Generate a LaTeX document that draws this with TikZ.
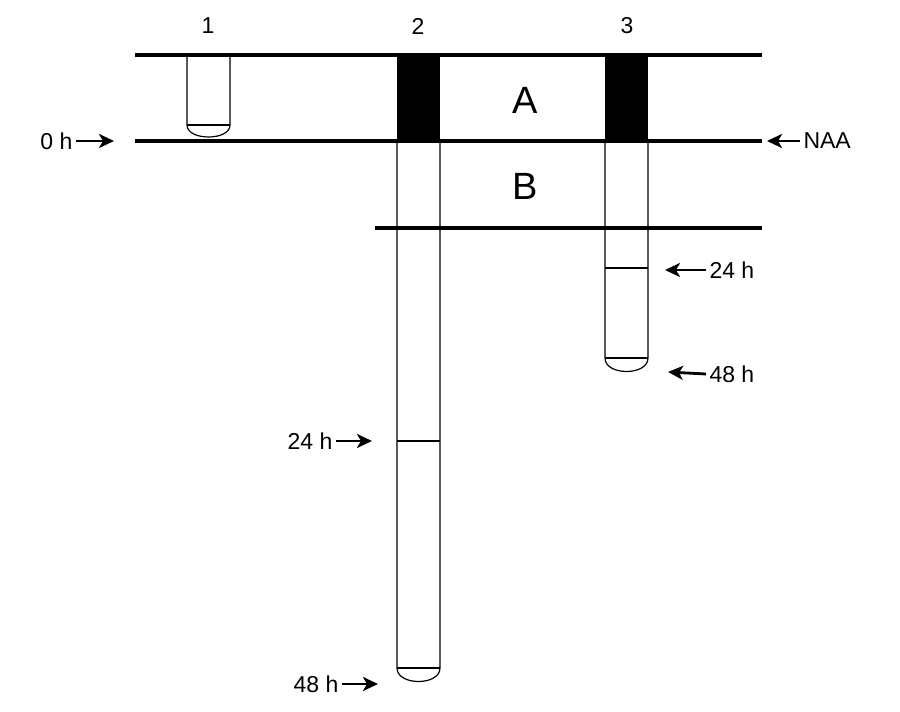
\documentclass[tikz,border=0pt]{standalone}
\usepackage{fontspec}
\setmainfont{Liberation Sans}
\usetikzlibrary{arrows.meta}
\begin{document}
\begin{tikzpicture}[x=1pt,y=-1pt,
  thick line/.style={line width=3.5pt},
  tube/.style={line width=1.2pt},
  lab/.style={font=\fontsize{23}{26}\selectfont},
  big/.style={font=\fontsize{38}{42}\selectfont},
  pt/.style={line width=2.8pt,-{Stealth[length=15pt,width=14pt,inset=4pt]}}]
\useasboundingbox (0,0) rectangle (900,712);
% tubes
\fill[black] (397,55) rectangle (440,141);
\fill[black] (605,55) rectangle (648,141);
\draw[tube] (187,55) -- (187,125) .. controls (187,141) and (230,141) .. (230,125) -- (230,55);
\draw[tube] (187,125) -- (230,125);
\draw[tube] (397,141) -- (397,668) .. controls (397,686) and (440,686) .. (440,668) -- (440,141);
\draw[tube] (397,668) -- (440,668);
\draw[tube] (397,441) -- (440,441);
\draw[tube] (605,141) -- (605,358) .. controls (605,376) and (648,376) .. (648,358) -- (648,141);
\draw[tube] (605,358) -- (648,358);
\draw[tube] (605,268) -- (648,268);
% lines
\draw[thick line] (135,55) -- (762,55);
\draw[thick line] (135,141) -- (762,141);
\draw[thick line] (375,228) -- (762,228);
% labels
\node[lab] (n1) at (208,26) {1};
\node[lab] (n2) at (418,26) {2};
\node[lab] (n3) at (627,26) {3};
\node[big] (A) at (525,100) {A};
\node[big] (B) at (525,186) {B};
\node[lab,anchor=east] (h0) at (76,141) {0 h};
\coordinate (h0e) at (114,141);
\draw[pt] (h0) -- (h0e);
\node[lab,anchor=west] (naa) at (800,141) {NAA};
\coordinate (naae) at (767,141);
\draw[pt] (naa) -- (naae);
\node[lab,anchor=west] (t24) at (706,270) {24 h};
\coordinate (t24e) at (665,270);
\draw[pt] (t24) -- (t24e);
\node[lab,anchor=west] (t48) at (706,374) {48 h};
\coordinate (t48e) at (668,372);
\draw[pt] (t48.west) -- (t48e);
\node[lab,anchor=east] (s24) at (336,441) {24 h};
\coordinate (s24e) at (372,441);
\draw[pt] (s24) -- (s24e);
\node[lab,anchor=east] (s48) at (342,684) {48 h};
\coordinate (s48e) at (378,684);
\draw[pt] (s48) -- (s48e);
\end{tikzpicture}
\end{document}
